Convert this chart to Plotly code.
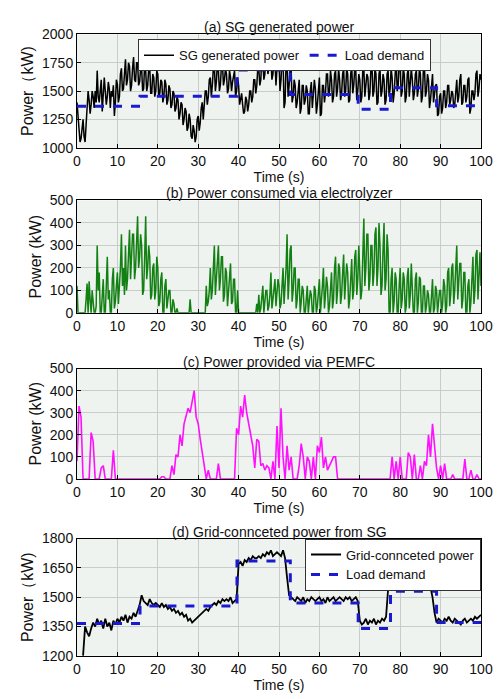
import plotly.graph_objects as go

# ---------------- data ----------------
t_q = [i * 0.25 for i in range(401)]     # 0.25 s sampling
t_half = [i * 0.5 for i in range(201)]   # 0.5 s sampling

sg_power = [
    1400,1250,1150,1050,1080,1200,1250,1100,1050,1200,
    1350,1500,1420,1300,1380,1500,1450,1350,1500,1400,
    1680,1450,1400,1550,1600,1320,1450,1620,1500,1380,
    1450,1580,1520,1350,1500,1450,1550,1280,1400,1600,
    1560,1400,1450,1650,1700,1500,1520,1700,1780,1550,
    1600,1750,1720,1500,1550,1700,1800,1600,1580,1750,
    1750,1550,1580,1700,1700,1500,1520,1750,1680,1500,
    1550,1700,1720,1480,1480,1650,1620,1450,1500,1680,
    1650,1450,1480,1600,1580,1400,1450,1600,1560,1380,
    1420,1550,1520,1350,1380,1500,1480,1320,1350,1450,
    1420,1250,1300,1400,1380,1200,1250,1350,1320,1150,
    1180,1300,1250,1100,1080,1200,1150,1050,1100,1250,
    1280,1150,1220,1350,1400,1250,1350,1500,1500,1380,
    1450,1600,1620,1450,1550,1700,1720,1500,1580,1750,
    1680,1500,1560,1720,1750,1550,1600,1700,1650,1480,
    1520,1680,1620,1500,1580,1650,1680,1450,1500,1620,
    1550,1380,1420,1480,1380,1300,1320,1450,1420,1320,
    1380,1500,1500,1400,1450,1600,1600,1480,1550,1700,
    1700,1550,1600,1800,1780,1600,1650,1820,1800,1650,
    1700,1850,1780,1600,1650,1800,1780,1550,1700,1850,
    1760,1500,1600,1800,1800,1350,1400,1750,1750,1450,
    1550,1700,1700,1400,1450,1600,1550,1350,1400,1550,
    1600,1300,1350,1550,1550,1380,1420,1550,1500,1300,
    1300,1500,1580,1350,1450,1600,1520,1300,1380,1550,
    1620,1280,1300,1550,1550,1400,1480,1650,1650,1450,
    1500,1680,1600,1400,1450,1650,1680,1450,1520,1700,
    1600,1420,1480,1650,1700,1450,1500,1700,1650,1400,
    1420,1650,1720,1480,1550,1700,1680,1420,1500,1650,
    1600,1400,1450,1700,1700,1450,1550,1650,1620,1420,
    1480,1700,1750,1450,1500,1700,1650,1380,1400,1650,
    1700,1450,1500,1650,1600,1380,1420,1650,1680,1450,
    1520,1700,1620,1400,1480,1650,1800,1500,1550,1750,
    1750,1450,1500,1700,1650,1400,1450,1650,1700,1450,
    1550,1700,1600,1420,1480,1650,1680,1450,1520,1700,
    1650,1400,1450,1700,1720,1450,1500,1650,1600,1350,
    1420,1600,1650,1400,1480,1550,1560,1280,1300,1450,
    1480,1300,1350,1500,1500,1350,1400,1550,1550,1380,
    1420,1500,1480,1350,1380,1550,1600,1400,1450,1600,
    1650,1380,1400,1550,1550,1400,1450,1600,1620,1300,
    1350,1500,1500,1420,1480,1650,1680,1450,1520,1650,
    1600,
]

electrolyzer = [
    120,0,0,0,0,0,0,0,0,60,
    130,0,140,60,0,100,60,0,0,30,
    300,100,180,0,0,80,150,0,0,120,
    250,60,100,0,0,150,200,20,50,120,
    180,40,100,200,350,120,200,80,300,100,
    150,300,370,150,250,350,350,150,200,300,
    430,200,250,350,300,80,100,250,430,150,
    200,300,250,60,80,200,220,60,100,250,
    200,30,50,150,180,0,0,120,150,20,
    60,100,100,0,0,60,40,0,0,20,
    0,0,0,0,0,0,0,0,0,0,
    0,0,60,0,0,0,0,0,0,0,
    0,0,0,0,0,0,0,0,120,30,
    50,100,200,60,100,220,300,80,150,250,
    300,100,150,250,250,50,80,200,180,30,
    100,200,220,40,50,150,150,0,0,100,
    0,0,0,0,0,0,0,0,0,0,
    0,0,0,0,0,0,0,0,40,0,
    80,0,20,60,120,0,50,100,100,10,
    30,80,180,20,60,120,150,30,80,150,
    120,20,40,150,200,40,100,200,350,60,
    150,280,300,50,100,200,200,20,60,150,
    150,0,50,120,100,0,0,80,120,0,
    40,100,80,0,0,120,100,0,30,80,
    150,0,50,120,200,20,80,160,120,0,
    30,100,180,20,60,200,250,40,100,220,
    200,40,80,180,260,60,120,220,180,20,
    60,200,240,60,100,250,280,80,150,300,
    200,60,100,250,420,120,200,350,350,100,
    150,300,300,120,180,350,380,120,200,400,
    300,80,120,280,400,100,150,350,280,0,
    0,150,200,0,50,180,150,0,0,120,
    200,20,60,180,150,0,30,160,200,20,
    80,220,120,0,0,150,180,0,50,160,
    150,0,0,120,120,0,30,100,80,0,
    0,60,150,0,20,120,100,0,40,100,
    100,0,40,150,120,0,30,180,200,30,
    80,200,220,40,100,250,300,60,120,220,
    220,20,60,180,180,0,0,120,150,0,
    50,200,250,40,100,260,280,60,150,270,
    120,
]

pemfc = [
    80,330,280,0,0,0,0,210,170,0,
    0,0,50,60,0,0,0,0,130,0,
    0,0,0,0,0,0,0,0,0,0,
    0,0,0,0,0,0,0,0,0,0,
    0,0,10,10,0,0,0,60,20,110,
    100,200,150,250,280,320,300,350,400,280,
    250,180,120,60,0,40,0,0,0,0,
    70,0,0,0,0,0,0,0,0,230,
    200,330,280,380,300,250,200,150,50,180,
    170,60,70,40,60,50,0,80,0,240,
    50,320,100,0,150,40,100,0,0,0,
    60,160,100,0,100,80,0,100,0,150,
    120,190,50,100,40,60,80,100,100,0,
    0,0,0,0,0,0,0,0,0,0,
    0,0,0,0,0,0,0,0,0,0,
    0,0,0,0,0,0,100,0,80,0,
    100,0,0,0,120,100,0,110,0,0,
    60,0,80,60,200,100,250,160,50,0,
    60,0,70,0,0,0,20,0,0,0,
    0,0,90,0,0,40,0,0,20,0,
    0,
]

grid_power = [
    None,None,None,1200,1350,1320,1300,1340,1370,1350,
    1390,1360,1380,1340,1390,1350,1370,1330,1380,1360,
    1390,1370,1400,1380,1410,1370,1400,1390,1420,1400,
    1430,1460,1510,1480,1470,1460,1490,1470,1460,1470,
    1460,1450,1470,1450,1460,1440,1450,1430,1440,1420,
    1430,1410,1420,1400,1410,1380,1390,1370,1380,1390,
    1400,1410,1420,1430,1440,1430,1450,1460,1470,1460,
    1480,1470,1490,1480,1490,1480,1500,1470,1480,1490,
    1670,1680,1660,1690,1680,1700,1690,1710,1700,1700,
    1710,1700,1720,1710,1730,1720,1740,1710,1720,1730,
    1720,1710,1740,1700,1600,1510,1500,1490,1480,1500,
    1490,1480,1500,1470,1490,1480,1500,1490,1480,1490,
    1500,1480,1490,1470,1500,1480,1490,1500,1480,1490,
    1500,1490,1480,1500,1490,1500,1480,1490,1500,1480,
    1380,1360,1370,1390,1360,1380,1370,1390,1360,1380,
    1370,1390,1380,1400,1540,1560,1550,1570,1540,1560,
    1550,1570,1540,1560,1550,1570,1540,1560,1550,1570,
    1550,1540,1560,1550,1540,1550,1500,1420,1370,1390,
    1380,1370,1390,1380,1400,1380,1370,1390,1380,1370,
    1360,1380,1390,1370,1380,1390,1380,1400,1390,1400,
    1410,
]

load_t = [0, 15.6, 39.6, 52.8, 69.6, 77.6, 89, 100]
load_v = [1365, 1455, 1685, 1470, 1340, 1530, 1370, 1370]

titles = ["(a) SG generated power", "(b) Power consumed via electrolyzer",
          "(c) Power provided via PEMFC", "(d) Grid-connceted power from SG"]
xticks = [0, 10, 20, 30, 40, 50, 60, 70, 80, 90, 100]

# ---------------- layout geometry ----------------
H = 699
panels_px = [(27, 143), (197, 312), (369, 482), (543, 663)]
domains = [[1 - b / H, 1 - t / H] for (t, b) in panels_px]

FONT = "Liberation Sans, Arial, sans-serif"
BG = "#eef3ef"
GRID = "#c9cdca"

fig = go.Figure()

# (a)
fig.add_trace(go.Scatter(x=t_q, y=sg_power, mode="lines", name="SG generated power",
                         line=dict(color="black", width=1.5), xaxis="x", yaxis="y",
                         legend="legend"))
fig.add_trace(go.Scatter(x=load_t, y=load_v, mode="lines", name="Load demand",
                         line=dict(color="#1a1ad0", width=3, dash="dash", shape="hv"),
                         xaxis="x", yaxis="y", legend="legend"))
# (b)
fig.add_trace(go.Scatter(x=t_q, y=electrolyzer, mode="lines", showlegend=False,
                         line=dict(color="#128012", width=1.5), xaxis="x2", yaxis="y2"))
# (c)
fig.add_trace(go.Scatter(x=t_half, y=pemfc, mode="lines", showlegend=False,
                         line=dict(color="#ff10ff", width=1.6), xaxis="x3", yaxis="y3"))
# (d)
fig.add_trace(go.Scatter(x=t_half, y=grid_power, mode="lines", name="Grid-connceted power",
                         line=dict(color="black", width=1.8), xaxis="x4", yaxis="y4",
                         legend="legend2"))
fig.add_trace(go.Scatter(x=load_t, y=load_v, mode="lines", name="Load demand",
                         line=dict(color="#1a1ad0", width=3, dash="dash", shape="hv"),
                         xaxis="x4", yaxis="y4", legend="legend2"))

yranges = [[1000, 2000], [0, 500], [0, 500], [1200, 1800]]
yticks = [[1000, 1250, 1500, 1750, 2000], [0, 100, 200, 300, 400, 500],
          [0, 100, 200, 300, 400, 500], [1200, 1350, 1500, 1650, 1800]]
ytitles = ["Power（kW)", "Power (kW)", "Power (kW)", "Power（kW)"]

axis_common = dict(showline=True, linecolor="black", linewidth=1, mirror=True,
                   ticks="inside", ticklen=4, tickcolor="black",
                   showgrid=True, gridcolor=GRID, gridwidth=1, zeroline=False,
                   tickfont=dict(family=FONT, size=14, color="#111"))

for i in range(4):
    xa = "xaxis" if i == 0 else f"xaxis{i+1}"
    ya = "yaxis" if i == 0 else f"yaxis{i+1}"
    xname = "x" if i == 0 else f"x{i+1}"
    yname = "y" if i == 0 else f"y{i+1}"
    fig.layout[xa] = dict(domain=[0, 1], anchor=yname, range=[0, 100], tickvals=xticks,
                          title=dict(text="Time (s)", standoff=0,
                                     font=dict(family=FONT, size=14, color="#111")),
                          **axis_common)
    fig.layout[ya] = dict(domain=domains[i], anchor=xname, range=yranges[i],
                          tickvals=yticks[i],
                          title=dict(text=ytitles[i], standoff=4,
                                     font=dict(family=FONT, size=16, color="#111")),
                          **axis_common)
    fig.add_annotation(text=titles[i], xref="paper", yref="paper", x=0.5,
                       y=domains[i][1], yanchor="bottom", showarrow=False,
                       font=dict(family=FONT, size=14, color="#111"), yshift=-3)

fig.update_layout(
    width=499, height=699,
    margin=dict(l=77, r=18, t=0, b=0),
    paper_bgcolor="white", plot_bgcolor=BG,
    font=dict(family=FONT, color="#111"),
    legend=dict(orientation="h", x=(138 - 77) / 404, y=1 - 32 / H, xanchor="left",
                yanchor="top", bgcolor="white", bordercolor="#333", borderwidth=1,
                font=dict(family=FONT, size=13), itemwidth=30),
    legend2=dict(orientation="v", x=1, y=1 - 543 / H, xanchor="right", yanchor="top",
                 bgcolor="white", bordercolor="#333", borderwidth=1,
                 font=dict(family=FONT, size=13)),
)

fig.write_html("out.html")
